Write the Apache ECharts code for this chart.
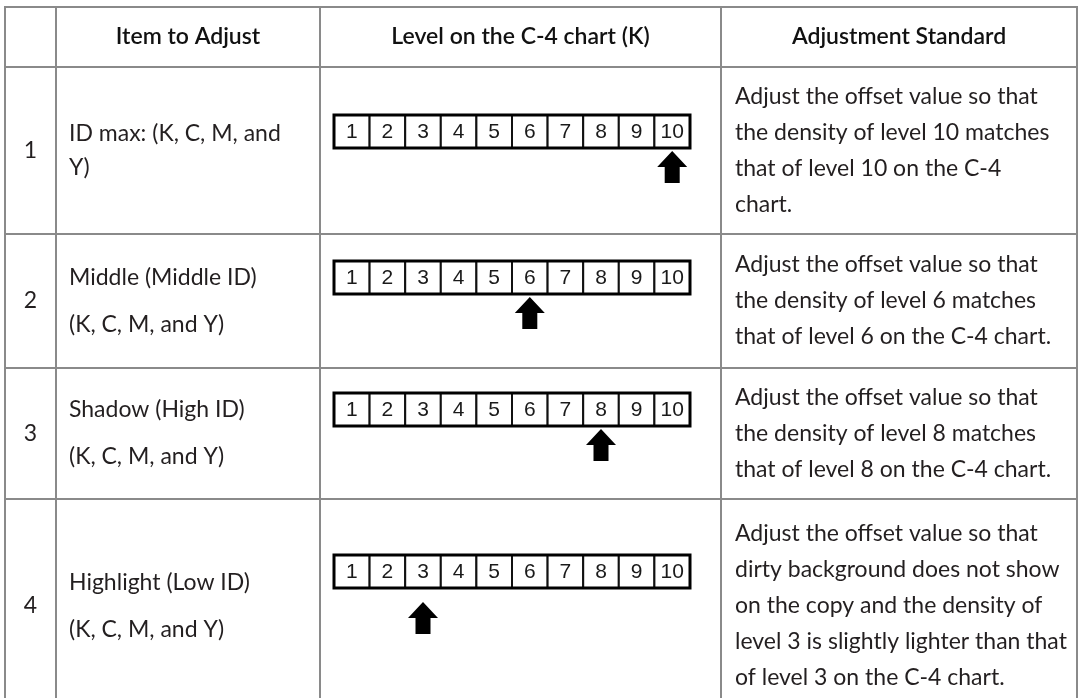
<!DOCTYPE html>
<html>
<head>
<meta charset="utf-8">
<script src="https://cdn.jsdelivr.net/npm/echarts@6/dist/echarts.min.js"></script>
<style>
html,body{margin:0;padding:0;background:#ffffff;}
#c{width:1079px;height:698px;}
</style>
</head>
<body>
<div id="c"></div>
<script>
// ---------------- data ----------------
const headers = ['', 'Item to Adjust', 'Level on the C-4 chart (K)', 'Adjustment Standard'];
const rowNumbers = ['1', '2', '3', '4'];
const itemParagraphs = [
  ['ID max: (K, C, M, and\nY)'],
  ['Middle (Middle ID)', '(K, C, M, and Y)'],
  ['Shadow (High ID)', '(K, C, M, and Y)'],
  ['Highlight (Low ID)', '(K, C, M, and Y)']
];
const levelLabels = ['1', '2', '3', '4', '5', '6', '7', '8', '9', '10'];
const targetLevels = [10, 6, 8, 3];
const standardLines = [
  'Adjust the offset value so that\nthe density of level 10 matches\nthat of level 10 on the C-4\nchart.',
  'Adjust the offset value so that\nthe density of level 6 matches\nthat of level 6 on the C-4 chart.',
  'Adjust the offset value so that\nthe density of level 8 matches\nthat of level 8 on the C-4 chart.',
  'Adjust the offset value so that\ndirty background does not show\non the copy and the density of\nlevel 3 is slightly lighter than that\nof level 3 on the C-4 chart.'
];

// ---------------- layout ----------------
const COLS = [5, 56, 320, 721, 1077];
const ROWS = [7, 67, 234, 368, 499, 713];
const STRIP = { left: 334, width: 356, height: 33 };
const STRIP_TOP = [115, 261, 393, 555];
const ARROW_GAP = [3, 3, 3, 14];
const FONT_FAMILY = 'Lato, "Noto Sans", sans-serif';
const BODY_SIZE = 23;
const TEXT_COLOR = '#231f20';
const LINE_COLOR = '#8a8a8a';
const ARROW_PATH = 'path://M15,0L30,16L22.5,16L22.5,32L7.5,32L7.5,16L0,16Z';

const chart = echarts.init(document.getElementById('c'), null, { renderer: 'canvas' });

const grid = [{ left: 0, top: 0, right: 0, bottom: 0 }];
const xAxis = [{ type: 'value', gridIndex: 0, min: 0, max: 1079, show: false }];
const yAxis = [{ type: 'value', gridIndex: 0, min: 0, max: 698, inverse: true, show: false }];
const series = [];

// table frame + header
series.push({
  type: 'custom',
  xAxisIndex: 0, yAxisIndex: 0,
  silent: true, clip: false, z: 1,
  data: [[0]],
  renderItem: function (params, api) {
    const children = [];
    const yBottom = api.coord([0, 698])[1];
    COLS.forEach(function (cx) {
      const p = api.coord([cx, ROWS[0]]);
      children.push({ type: 'line', shape: { x1: p[0], y1: p[1], x2: p[0], y2: yBottom }, style: { stroke: LINE_COLOR, lineWidth: 2 } });
    });
    ROWS.slice(0, 5).forEach(function (ry) {
      const a = api.coord([COLS[0], ry]);
      const b = api.coord([COLS[4], ry]);
      children.push({ type: 'line', shape: { x1: a[0] - 1, y1: a[1], x2: b[0] + 1, y2: b[1] }, style: { stroke: LINE_COLOR, lineWidth: 2 } });
    });
    headers.forEach(function (h, i) {
      if (!h) return;
      const p = api.coord([(COLS[i] + COLS[i + 1]) / 2, (ROWS[0] + ROWS[1]) / 2]);
      children.push({ type: 'text', style: { text: h, x: p[0], y: p[1], align: 'center', verticalAlign: 'middle', fill: '#111111', fontFamily: FONT_FAMILY, fontSize: BODY_SIZE, fontWeight: 600 } });
    });
    return { type: 'group', children: children };
  }
});

// table body text
series.push({
  type: 'custom',
  xAxisIndex: 0, yAxisIndex: 0,
  silent: true, clip: false, z: 2,
  data: rowNumbers.map(function (n, i) { return [i]; }),
  renderItem: function (params, api) {
    const r = api.value(0);
    const cy = (ROWS[r + 1] + ROWS[r + 2]) / 2;
    const children = [];
    const pn = api.coord([(COLS[0] + COLS[1]) / 2, cy]);
    children.push({ type: 'text', style: { text: rowNumbers[r], x: pn[0], y: pn[1], align: 'center', verticalAlign: 'middle', fill: TEXT_COLOR, fontFamily: FONT_FAMILY, fontSize: BODY_SIZE } });
    const paras = itemParagraphs[r];
    const gap = 47;
    paras.forEach(function (t, k) {
      const off = (k - (paras.length - 1) / 2) * gap;
      const p = api.coord([COLS[1] + 13, cy + off]);
      children.push({ type: 'text', style: { text: t, x: p[0], y: p[1], align: 'left', verticalAlign: 'middle', lineHeight: 34, fill: TEXT_COLOR, fontFamily: FONT_FAMILY, fontSize: BODY_SIZE } });
    });
    const ps = api.coord([COLS[3] + 14, cy]);
    children.push({ type: 'text', style: { text: standardLines[r], x: ps[0], y: ps[1], align: 'left', verticalAlign: 'middle', lineHeight: 36, fill: TEXT_COLOR, fontFamily: FONT_FAMILY, fontSize: BODY_SIZE } });
    return { type: 'group', children: children };
  }
});

// level strips and arrows
targetLevels.forEach(function (lvl, r) {
  const gi = r + 1;
  grid.push({ left: STRIP.left, top: STRIP_TOP[r], width: STRIP.width, height: STRIP.height });
  xAxis.push({ type: 'category', gridIndex: gi, data: levelLabels, show: false, boundaryGap: true });
  yAxis.push({ type: 'value', gridIndex: gi, min: 0, max: 1, show: false });
  series.push({
    type: 'custom',
    xAxisIndex: gi, yAxisIndex: gi,
    silent: true, clip: false, z: 3,
    data: levelLabels.map(function (l, i) { return [i, 1]; }),
    renderItem: function (params, api) {
      const i = api.value(0);
      const top = api.coord([i, 1]);
      const bot = api.coord([i, 0]);
      const w = api.size([1, 0])[0];
      return { type: 'group', children: [
        { type: 'rect', shape: { x: top[0] - w / 2, y: top[1], width: w, height: bot[1] - top[1] }, style: { fill: '#ffffff', stroke: '#111111', lineWidth: 2 } },
        { type: 'text', style: { text: levelLabels[i], x: top[0], y: (top[1] + bot[1]) / 2 + 1, align: 'center', verticalAlign: 'middle', fill: '#1a1a1a', fontFamily: '"Liberation Sans", Arial, sans-serif', fontSize: 21 } }
      ] };
    }
  });
  series.push({
    type: 'custom',
    xAxisIndex: gi, yAxisIndex: gi,
    silent: true, clip: false, z: 4,
    data: [[0, 1]],
    renderItem: function (params, api) {
      const n = levelLabels.length;
      const w = api.size([1, 0])[0];
      const a = api.coord([0, 1]);
      const b = api.coord([n - 1, 0]);
      return { type: 'rect', shape: { x: a[0] - w / 2, y: a[1], width: b[0] + w / 2 - (a[0] - w / 2), height: b[1] - a[1] }, style: { fill: 'none', stroke: '#000000', lineWidth: 3 } };
    }
  });
  series.push({
    type: 'scatter',
    xAxisIndex: gi, yAxisIndex: gi,
    silent: true, clip: false, z: 5,
    symbol: ARROW_PATH,
    symbolSize: [30, 32],
    symbolOffset: [0, ARROW_GAP[r] + 16],
    itemStyle: { color: '#000000', opacity: 1 },
    emphasis: { disabled: true },
    data: [[lvl - 1, 0]]
  });
});

chart.setOption({
  animation: false,
  backgroundColor: '#ffffff',
  grid: grid,
  xAxis: xAxis,
  yAxis: yAxis,
  series: series
});
</script>
</body>
</html>
